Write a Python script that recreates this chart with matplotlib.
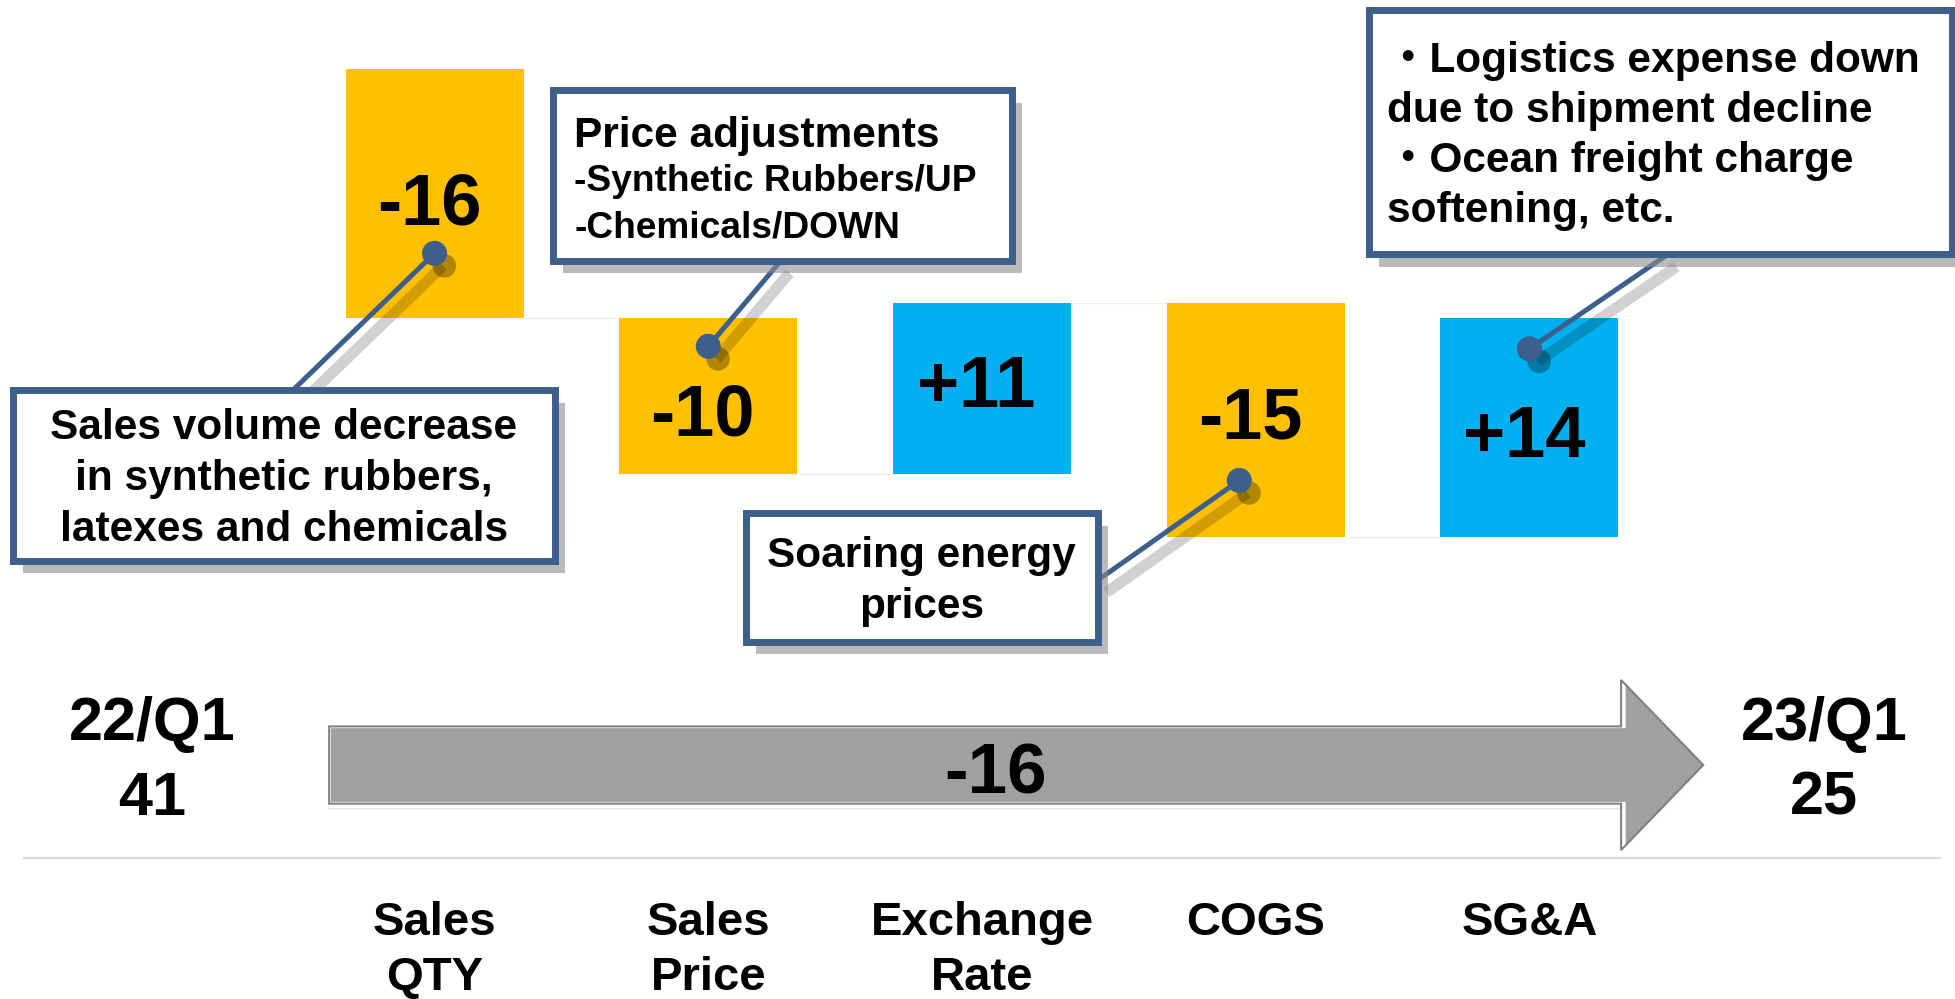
import matplotlib
matplotlib.use("Agg")
import matplotlib.pyplot as plt
import matplotlib.patches as mpatches
import matplotlib.patheffects as pe

plt.rcParams['font.family'] = ['Liberation Sans', 'Noto Sans CJK JP', 'DejaVu Sans']
plt.rcParams['font.weight'] = 'bold'

# Data
start_label = "22/Q1"
end_label = "23/Q1"
start_value = 41
end_value = 25
categories = ["Sales\nQTY", "Sales\nPrice", "Exchange\nRate", "COGS", "SG&A"]
changes = [-16, -10, 11, -15, 14]

# Callout notes
note_texts = [
    "Sales volume decrease\nin synthetic rubbers,\nlatexes and chemicals",
    "",
    "Soaring energy\nprices",
    "\u30fbLogistics expense down\ndue to shipment decline\n\u30fbOcean freight charge\nsoftening, etc.",
]
price_note_title = "Price adjustments"
price_note_lines = ["-Synthetic Rubbers/UP", "-Chemicals/DOWN"]

# layout of the callouts (data units): box, leader anchor, dot (x offset, fraction of bar)
note_bars = [0, 1, 3, 4]
note_boxes = [(-0.54, 9.44, 1.44, 20.4), (1.432, 28.7, 3.109, 39.6),
              (2.137, 4.26, 3.424, 12.5), (4.414, 29.1, 6.544, 44.75)]
note_anchors = [(0.483, 20.4), (2.266, 28.7), (3.424, 8.22), (5.506, 29.1)]
note_dots = [(0.0, 0.26), (0.0, 0.82), (-0.06, 0.24), (0.0, 0.86)]
label_shift = [-0.8, -1.3, 0.0, 0.0, -0.7]

ORANGE = "#FFC000"
BLUE = "#00B0F0"
NAVY = "#3C5F8C"

fig = plt.figure(figsize=(19.56, 9.99), dpi=100)
ax = fig.add_axes([24 / 1956, 141 / 999, 1916 / 1956, 858 / 999])
ax.set_xlim(-0.5, 6.5)
ax.set_ylim(-9.6, 45.4)

# Waterfall bars
bottoms = []
running = start_value
for c in changes:
    bottoms.append(running)
    running += c
xs = list(range(1, len(changes) + 1))
colors = [ORANGE if c < 0 else BLUE for c in changes]
ax.bar(xs, changes, bottom=bottoms, width=0.65, color=colors, zorder=2)

# faint connectors between bars
levels = [b + c for b, c in zip(bottoms, changes)]
for i in range(len(changes) - 1):
    ax.plot([xs[i] + 0.325, xs[i + 1] - 0.325], [levels[i], levels[i]],
            color="#F0F0F0", lw=1, zorder=1)

for x, b, c, s in zip(xs, bottoms, changes, label_shift):
    ax.text(x - 0.02, b + c / 2 + s, f"{c:+d}", ha="center", va="center",
            fontsize=52, fontweight="bold", zorder=3)

# Total change arrow
total = end_value - start_value
arrow = mpatches.FancyArrow(0.61, -3.64, 5.04, 0, width=5.13, head_width=11.2,
                            head_length=0.31, length_includes_head=True,
                            facecolor="#A0A0A0", edgecolor="white", lw=4.5, zorder=2)
arrow.set_path_effects([pe.SimplePatchShadow(offset=(0, -3), shadow_rgbFace="#9A9A9A", alpha=0.35),
                        pe.Normal()])
ax.add_patch(arrow)
bevel = mpatches.FancyArrow(0.615, -3.64, 5.02, 0, width=4.95, head_width=10.9,
                            head_length=0.30, length_includes_head=True,
                            facecolor="none", edgecolor="#808080", lw=1.5, zorder=2)
ax.add_patch(bevel)
ax.text(3.05, -4.3, f"{total:d}", ha="center", va="center", fontsize=51,
        fontweight="bold", zorder=3)

ax.text(-0.033, -3.45, f"{start_label}\n{start_value}", ha="center", va="center",
        fontsize=44, fontweight="bold", linespacing=1.4)
ax.text(6.076, -3.45, f"{end_label}\n{end_value}", ha="center", va="center",
        fontsize=44, fontweight="bold", linespacing=1.4)

# Callouts
for bi, box, anc, dot in zip(note_bars, note_boxes, note_anchors, note_dots):
    x0, y0, x1, y1 = box
    rect = mpatches.Rectangle((x0, y0), x1 - x0, y1 - y0, facecolor="white",
                              edgecolor=NAVY, lw=5, clip_on=False, zorder=6)
    rect.set_path_effects([pe.SimplePatchShadow(offset=(7, -9), shadow_rgbFace="#8C8C8C", alpha=0.6),
                           pe.Normal()])
    ax.add_patch(rect)
    lo = min(bottoms[bi], bottoms[bi] + changes[bi])
    dx = xs[bi] + dot[0]
    dy = lo + dot[1] * abs(changes[bi])
    ax.plot([anc[0], dx], [anc[1], dy], color=NAVY, lw=3.6, solid_capstyle="butt",
            zorder=5, clip_on=False,
            path_effects=[pe.SimpleLineShadow(offset=(6, -9), shadow_color="black",
                                              alpha=0.18, linewidth=8),
                          pe.Normal()])
    ax.plot(dx, dy, "o", ms=17, color=NAVY, zorder=5,
            path_effects=[pe.SimplePatchShadow(offset=(7, -9), shadow_rgbFace="black", alpha=0.3),
                          pe.Normal()])

ax.text(0.45, 14.7, note_texts[0], ha="center", va="center", fontsize=30.5,
        fontweight="bold", linespacing=1.36, zorder=7)
ax.text(2.78, 8.1, note_texts[2], ha="center", va="center", fontsize=30.5,
        fontweight="bold", linespacing=1.36, zorder=7)
ax.text(4.48, 42.8, note_texts[3], ha="left", va="top", fontsize=30.5,
        fontweight="bold", linespacing=1.33, zorder=7)

# Price adjustment box text
ax.text(1.51, 35.96, price_note_title, ha="left", va="baseline", fontsize=30.5,
        fontweight="bold", zorder=7)
for line, yy in zip(price_note_lines, [33.14, 30.19]):
    ax.text(1.51, yy, line, ha="left", va="baseline", fontsize=26.7,
            fontweight="bold", zorder=7)

# Axis styling
ax.set_xticks(range(len(categories) + 2))
ax.set_xticklabels([""] + categories + [""], fontsize=34, fontweight="bold", linespacing=1.33)
ax.tick_params(axis="x", length=0, pad=31)
ax.set_yticks([])
for s in ["top", "left", "right"]:
    ax.spines[s].set_visible(False)
ax.spines["bottom"].set_color("#D9D9D9")
ax.spines["bottom"].set_linewidth(1.5)

fig.savefig("out.png", dpi=100)
